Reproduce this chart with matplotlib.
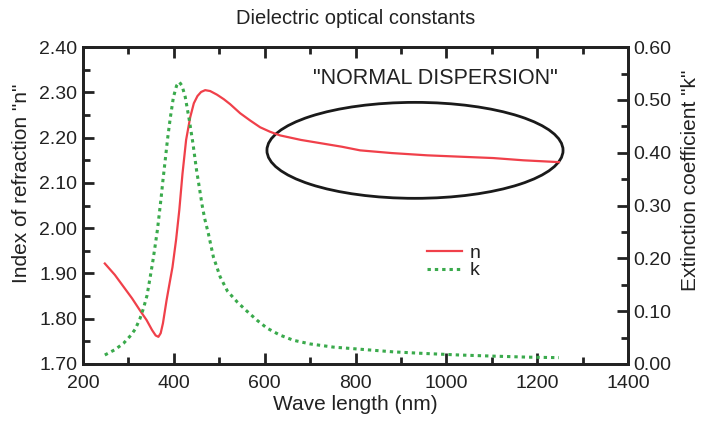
import matplotlib
matplotlib.use("Agg")
import matplotlib.pyplot as plt
from matplotlib.patches import Ellipse
from matplotlib.ticker import MultipleLocator

plt.rcParams['font.family'] = ['Liberation Sans', 'DejaVu Sans']

# refractive index n (left axis)
wl_n = [248, 270, 289, 308, 325, 340, 352, 360, 366, 371, 376, 384, 390, 397,
        405, 412, 419, 427, 436, 444, 452, 460, 469, 480, 495, 510, 524, 546,
        568, 590, 612, 634, 680, 722, 770, 810, 880, 958, 1030, 1103, 1170, 1248]
n_vals = [1.922, 1.897, 1.871, 1.845, 1.819, 1.797, 1.775, 1.763, 1.760, 1.768,
          1.790, 1.841, 1.875, 1.914, 1.975, 2.040, 2.120, 2.195, 2.245, 2.276,
          2.292, 2.301, 2.305, 2.303, 2.295, 2.285, 2.274, 2.254, 2.238, 2.223,
          2.213, 2.205, 2.195, 2.188, 2.180, 2.172, 2.166, 2.161, 2.158, 2.155,
          2.150, 2.146]

# extinction coefficient k (right axis)
wl_k = [248, 270, 289, 305, 315, 325, 333, 341, 348, 354, 359, 364, 368, 372,
        376, 381, 386, 392, 399, 406, 412, 418, 425, 434, 442, 450, 456, 462,
        468, 476, 487, 502, 518, 540, 561, 583, 605, 633, 663, 700, 751, 810,
        883, 950, 1030, 1100, 1178, 1248]
k_vals = [0.017, 0.027, 0.039, 0.054, 0.066, 0.085, 0.105, 0.130, 0.165, 0.196,
          0.225, 0.255, 0.285, 0.315, 0.348, 0.386, 0.425, 0.465, 0.505, 0.527,
          0.534, 0.527, 0.506, 0.462, 0.418, 0.367, 0.335, 0.302, 0.275, 0.247,
          0.203, 0.165, 0.138, 0.117, 0.100, 0.083, 0.068, 0.055, 0.045, 0.038,
          0.032, 0.028, 0.023, 0.020, 0.017, 0.015, 0.013, 0.012]

txt = '#222222'
red = '#f0404a'
green = '#3aaa4c'

fig = plt.figure(figsize=(7.12, 4.21), dpi=100)
ax = fig.add_axes([0.1166, 0.1354, 0.7654, 0.7526])
ax2 = ax.twinx()

ln_n, = ax.plot(wl_n, n_vals, color=red, lw=1.6, label='n')
ln_k, = ax2.plot(wl_k, k_vals, color=green, lw=2.2, linestyle=(0, (1.1, 1.3)), label='k')

ax.set_xlim(200, 1400)
ax.set_ylim(1.70, 2.40)
ax2.set_ylim(0.0, 0.60)

ax.xaxis.set_major_locator(MultipleLocator(200))
ax.xaxis.set_minor_locator(MultipleLocator(100))
ax.yaxis.set_major_locator(MultipleLocator(0.1))
ax.yaxis.set_minor_locator(MultipleLocator(0.05))
ax2.yaxis.set_major_locator(MultipleLocator(0.1))
ax2.yaxis.set_minor_locator(MultipleLocator(0.05))
ax.yaxis.set_major_formatter('{x:.2f}')
ax2.yaxis.set_major_formatter('{x:.2f}')

ax.tick_params(which='both', direction='in', top=True, right=False, width=2, color=txt,
               labelsize=14, labelcolor=txt, pad=4)
ax.tick_params(axis='x', which='both', pad=8)
ax.tick_params(which='major', length=8)
ax.tick_params(which='minor', length=5)
ax2.tick_params(which='both', direction='in', width=2, color=txt,
                labelsize=14, labelcolor=txt, pad=4)
ax2.tick_params(which='major', length=8)
ax2.tick_params(which='minor', length=5)

for a in (ax, ax2):
    for s in a.spines.values():
        s.set_linewidth(2)
        s.set_color(txt)

ax.set_xlabel('Wave length (nm)', fontsize=15, color=txt, labelpad=2)
ax.set_ylabel('Index of refraction "n"', fontsize=15, color=txt)
ax2.set_ylabel('Extinction coefficient "k"', fontsize=15, color=txt)
ax.yaxis.set_label_coords(-0.095, 0.57)
ax2.yaxis.set_label_coords(1.097, 0.58)
ax.set_title('Dielectric optical constants', fontsize=14.5, color=txt, pad=17)

ell = Ellipse((931, 2.172), 652, 0.212, fill=False, edgecolor='#1a1a1a', lw=2)
ax.add_patch(ell)
ax.text(975, 2.33, '"NORMAL DISPERSION"', fontsize=15.5, color=txt,
        ha='center', va='center')

ax2.legend([ln_n, ln_k], ['n', 'k'], loc='upper left', bbox_to_anchor=(0.631, 0.378),
           frameon=False, fontsize=14, handlelength=1.8, handletextpad=0.4,
           labelspacing=0.0, borderpad=0, borderaxespad=0, labelcolor=txt)

fig.savefig('out.png', dpi=100)
